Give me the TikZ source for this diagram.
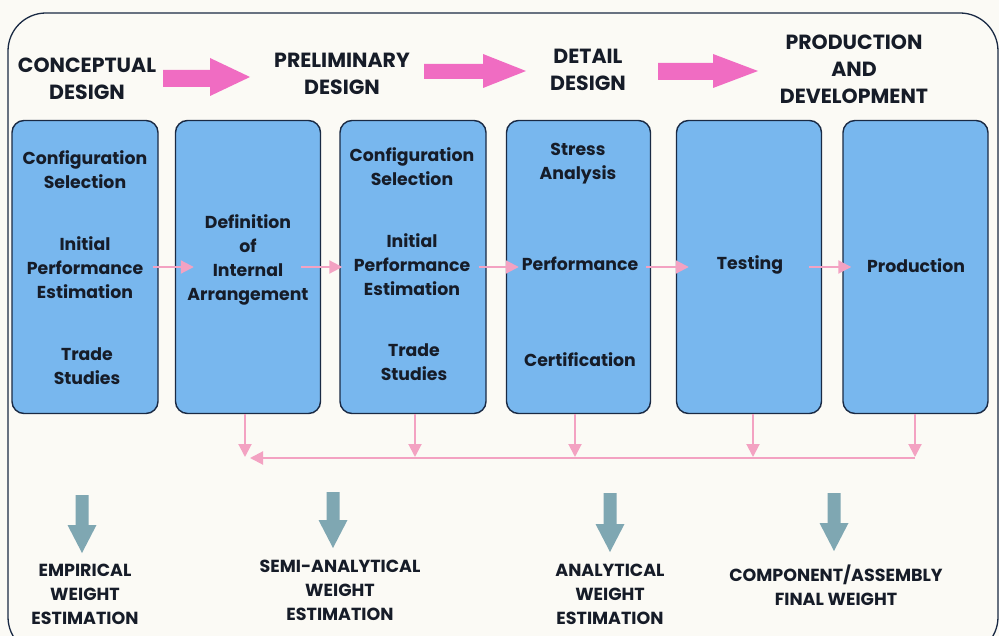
\documentclass[tikz,border=0pt]{standalone}
\usepackage{fontspec}
\setmainfont{Poppins}
\usetikzlibrary{arrows.meta,calc}
\definecolor{bg}{HTML}{FBFAF5}
\definecolor{boxfill}{HTML}{78B7EE}
\definecolor{boxline}{HTML}{1A2A44}
\definecolor{txt}{HTML}{161C28}
\definecolor{fatpink}{HTML}{F06CC2}
\definecolor{thinpink}{HTML}{F3A2C2}
\definecolor{grayblue}{HTML}{7FA7B2}
\tikzset{
  box/.style={draw=boxline,line width=1.4pt,fill=boxfill,rounded corners=12pt,
    minimum width=#1,minimum height=293pt,inner sep=0pt},
  head/.style={font=\fontsize{20.5}{27}\selectfont\bfseries,text=txt,align=center,inner sep=0pt},
  btxt/.style={font=\fontsize{17.3}{24}\selectfont\bfseries,text=txt,align=center,inner sep=0pt},
  foot/.style={font=\fontsize{17.5}{24}\selectfont\bfseries,text=txt,align=center,inner sep=0pt},
  thin/.style={draw=thinpink,line width=2pt,-{Triangle[width=13pt,length=13pt]}},
  fbline/.style={draw=thinpink,line width=2pt},
  fat/.style={fill=fatpink,draw=none},
  gray/.style={fill=grayblue,draw=none}
}
\begin{document}
\begin{tikzpicture}[x=1pt,y=-1pt]
\useasboundingbox (0,0) rectangle (999,636);
\fill[bg] (0,0) rectangle (999,636);
\begin{scope}
\clip (0,0) rectangle (999,636);
\draw[line width=1.3pt,draw=boxline,rounded corners=38pt] (8,13) rectangle (998,655);
\end{scope}
% headers
\node[head] (h1) at (87,79) {CONCEPTUAL\\DESIGN};
\node[head] (h2) at (342,73.5) {PRELIMINARY\\DESIGN};
\node[head] (h3) at (588,70) {DETAIL\\DESIGN};
\node[head] (h4) at (854,69.5) {PRODUCTION\\AND\\DEVELOPMENT};
% fat arrows
\fill[fat] (163,70) -- (210,70) -- (210,58) -- (250,77) -- (210,96) -- (210,87) -- (163,87) -- cycle;
\fill[fat] (424,64) -- (483,64) -- (483,54) -- (526,71) -- (483,88) -- (483,79) -- (424,79) -- cycle;
\fill[fat] (658,63) -- (713,63) -- (713,54) -- (758,71) -- (713,88) -- (713,80) -- (658,80) -- cycle;
% boxes
\node[box=146pt] (b1) at (85,267) {};
\node[box=145pt] (b2) at (248,267) {};
\node[box=146pt] (b3) at (413,267) {};
\node[box=144pt] (b4) at (578.5,267) {};
\node[box=145pt] (b5) at (749,267) {};
\node[box=145pt] (b6) at (915.5,267) {};
% box texts
\node[btxt] (t11) at (85,170) {Configuration\\Selection};
\node[btxt] (t12) at (85,268) {Initial\\Performance\\Estimation};
\node[btxt] (t13) at (87,366) {Trade\\Studies};
\node[btxt] (t21) at (248,260) {Definition\\of\\Internal\\Arrangement};
\node[btxt] (t31) at (412,166.5) {Configuration\\Selection};
\node[btxt] (t32) at (412,264.5) {Initial\\Performance\\Estimation};
\node[btxt] (t33) at (414,362.5) {Trade\\Studies};
\node[btxt] (t41) at (578,163.5) {Stress\\Analysis};
\node[btxt] (t42) at (580,264) {Performance};
\node[btxt] (t43) at (580,360) {Certification};
\node[btxt] (t51) at (750,265) {Testing};
\node[btxt] (t61) at (916,266) {Production};
% thin arrows between boxes
\draw[thin] ($(b1.east)+(-6,0)$) -- ($(b2.west)+(19,0)$);
\draw[thin] ($(b2.east)+(-20,0)$) -- ($(b3.west)+(3,0)$);
\draw[thin] ($(b3.east)+(-8,0)$) -- ($(b4.west)+(13,0)$);
\draw[thin] ($(b4.east)+(-5,0)$) -- ($(b5.west)+(13,0)$);
\draw[thin] ($(b5.east)+(-13,0)$) -- ($(b6.west)+(9,0)$);
% feedback
\coordinate (f2) at (245,457);
\coordinate (f3) at (415,457);
\coordinate (f4) at (575,457);
\coordinate (f5) at (753,457);
\coordinate (f6) at (915,458);
\coordinate (fend) at (250,458);
\draw[thin] (b2.south -| f2) -- (f2);
\draw[thin] (b3.south -| f3) -- (f3);
\draw[thin] (b4.south -| f4) -- (f4);
\draw[thin] (b5.south -| f5) -- (f5);
\draw[thin] (b6.south -| f6) -- ($(f6)+(0,-1)$);
\draw[thin] (f6) -- (fend);
% gray arrows
\foreach \cx/\top/\tip in {82/495/553, 333/492/548, 610/493/552, 834/493/551}{
  \fill[gray] (\cx-6.5,\top) -- (\cx+6.5,\top) -- (\cx+6.5,\tip-28) -- (\cx+14.5,\tip-28) -- (\cx,\tip) -- (\cx-14.5,\tip-28) -- (\cx-6.5,\tip-28) -- cycle;
}
% footers
\node[foot] (w1) at (85,594) {EMPIRICAL\\WEIGHT\\ESTIMATION};
\node[foot] (w2) at (340,590) {SEMI-ANALYTICAL\\WEIGHT\\ESTIMATION};
\node[foot] (w3) at (610,594) {ANALYTICAL\\WEIGHT\\ESTIMATION};
\node[foot] (w4) at (836,585.5) {COMPONENT/ASSEMBLY\\FINAL WEIGHT};
\end{tikzpicture}
\end{document}
